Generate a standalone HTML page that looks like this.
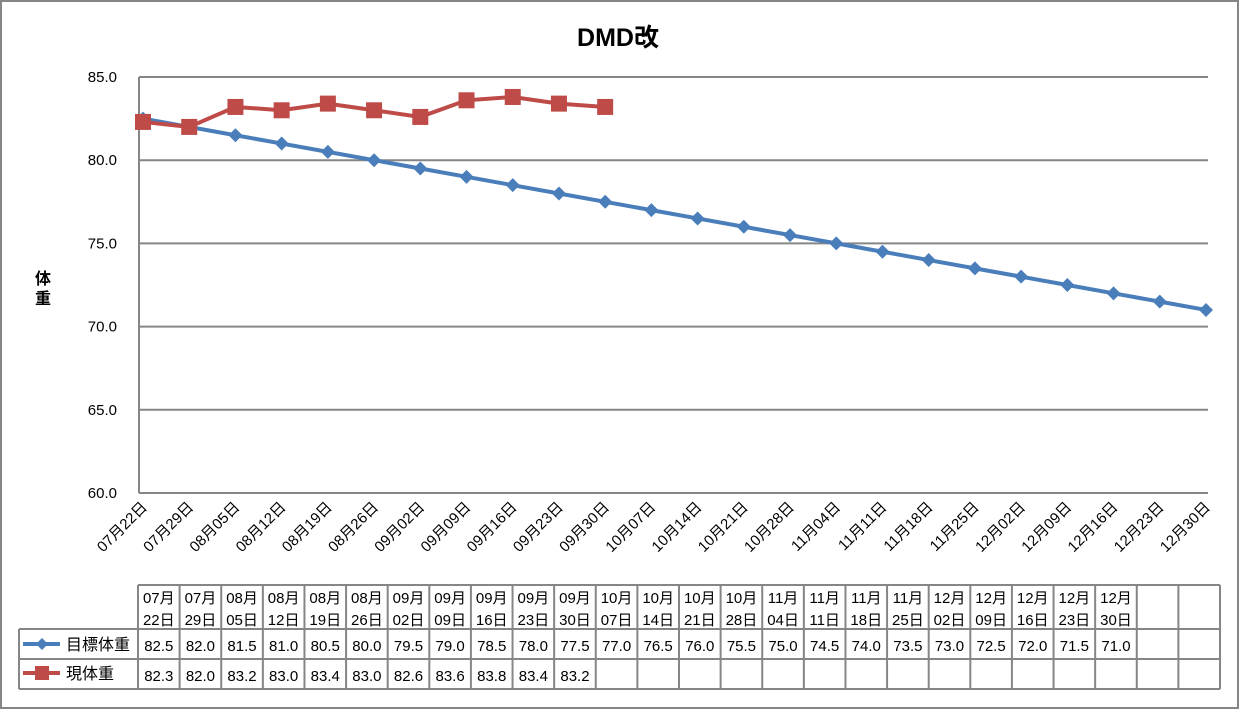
<!DOCTYPE html>
<html><head><meta charset="utf-8"><style>
body{margin:0;background:#fff;font-family:"Liberation Sans","Noto Sans CJK JP",sans-serif;}
svg text{font-family:"Liberation Sans","Noto Sans CJK JP",sans-serif;}
</style></head><body>
<svg id="chart" width="1241" height="710" xmlns="http://www.w3.org/2000/svg">
<rect x="1" y="1" width="1237" height="707" fill="#fff" stroke="#868686" stroke-width="2"/>
<text x="618" y="46" text-anchor="middle" font-size="25" font-weight="bold">DMD改</text>
<text x="43" y="284" text-anchor="middle" font-size="16" font-weight="bold">体</text>
<text x="43" y="304" text-anchor="middle" font-size="16" font-weight="bold">重</text>
<g id="grid"></g><g id="ylabels"></g><g id="xlabels"></g><g id="series"></g><g id="table"></g>
</svg>
<script>
const categories=["07月22日","07月29日","08月05日","08月12日","08月19日","08月26日","09月02日","09月09日","09月16日","09月23日","09月30日","10月07日","10月14日","10月21日","10月28日","11月04日","11月11日","11月18日","11月25日","12月02日","12月09日","12月16日","12月23日","12月30日"];
const targetWeight=[82.5,82.0,81.5,81.0,80.5,80.0,79.5,79.0,78.5,78.0,77.5,77.0,76.5,76.0,75.5,75.0,74.5,74.0,73.5,73.0,72.5,72.0,71.5,71.0];
const currentWeight=[82.3,82.0,83.2,83.0,83.4,83.0,82.6,83.6,83.8,83.4,83.2];
const yTicks=[60,65,70,75,80,85];
const NS="http://www.w3.org/2000/svg";
function mk(t,a,p){const e=document.createElementNS(NS,t);for(const k in a)e.setAttribute(k,a[k]);p.appendChild(e);return e;}
const x0=143,x1=1206,yTop=77,yBot=493,yMin=60,yMax=85;
const X=i=>x0+i*(x1-x0)/(categories.length-1);
const Y=v=>yBot-(v-yMin)/(yMax-yMin)*(yBot-yTop);
const grid=document.getElementById('grid'),yl=document.getElementById('ylabels'),xl=document.getElementById('xlabels'),ser=document.getElementById('series'),tb=document.getElementById('table');
yTicks.forEach(v=>{
 const l=mk('line',{x1:139,x2:1208,y1:Y(v),y2:Y(v),stroke:'#868686','stroke-width':2},grid);
 
 
 const t=mk('text',{x:117,y:Y(v)+5,'text-anchor':'end','font-size':15},yl);t.textContent=v.toFixed(1);
 
 
});
const ax=mk('line',{x1:139,x2:139,y1:yTop,y2:yBot,stroke:'#868686','stroke-width':2},grid);


categories.forEach((c,i)=>{
 const t=mk('text',{x:X(i)+5,y:508,'text-anchor':'end','font-size':15,transform:`rotate(-45 ${X(i)+5} 508)`},xl);t.textContent=c;
 
 
});
function line(vals,color,name){
 const p=mk('polyline',{points:vals.map((v,i)=>X(i)+','+Y(v)).join(' '),fill:'none',stroke:color,'stroke-width':4},ser);
 
 
}
line(targetWeight,'#4a7ebb','target-weight');
line(currentWeight,'#be4b48','current-weight');
targetWeight.forEach((v,i)=>{
 const x=X(i),y=Y(v);
 const m=mk('polygon',{points:`${x},${y-7} ${x+7},${y} ${x},${y+7} ${x-7},${y}`,fill:'#4a7ebb'},ser);
 
 
});
currentWeight.forEach((v,i)=>{
 const m=mk('rect',{x:X(i)-8,y:Y(v)-8,width:16,height:16,fill:'#be4b48'},ser);
 
 
});
const tx0=138,cw=(1220-138)/26,r0=585,r1=629,r2=659,r3=689;
const g='#868686';
function L(a,b,c,d){const l=mk('line',{x1:a,y1:b,x2:c,y2:d,stroke:g,'stroke-width':2},tb);}
[r0,r1,r2,r3].forEach((y,k)=>L(k==0?tx0:19,y,1220,y));
for(let i=0;i<=26;i++)L(tx0+i*cw,r0,tx0+i*cw,r3);
L(19,r1,19,r3);
function T(x,y,s,name){const t=mk('text',{x:x,y:y,'font-size':15,'text-anchor':'middle'},tb);t.textContent=s;}
categories.forEach((c,i)=>{const cx=tx0+i*cw+cw/2;T(cx,603,c.slice(0,3),'table-header-month');T(cx,625,c.slice(3),'table-header-day');});
targetWeight.forEach((v,i)=>T(tx0+i*cw+cw/2,651,v.toFixed(1),'table-target-value'));
currentWeight.forEach((v,i)=>T(tx0+i*cw+cw/2,681,v.toFixed(1),'table-current-value'));
const k1=mk('line',{x1:23,x2:60,y1:644,y2:644,stroke:'#4a7ebb','stroke-width':4},tb);
const k1m=mk('polygon',{points:'42,638 48,644 42,650 36,644',fill:'#4a7ebb'},tb);
const k2=mk('line',{x1:23,x2:60,y1:673,y2:673,stroke:'#be4b48','stroke-width':4},tb);
const k2m=mk('rect',{x:35,y:666,width:14,height:14,fill:'#be4b48'},tb);
const l1=mk('text',{x:66,y:650,'font-size':16},tb);l1.textContent='目標体重';
const l2=mk('text',{x:66,y:679,'font-size':16},tb);l2.textContent='現体重';
</script>
</body></html>
